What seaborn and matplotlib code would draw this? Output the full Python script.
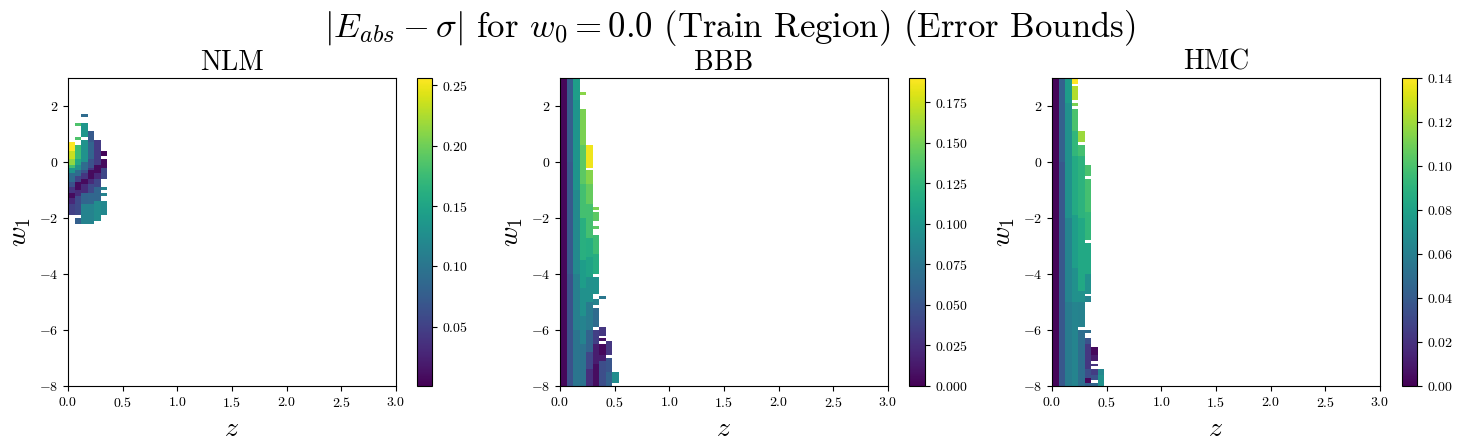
import numpy as np
import pandas as pd
import matplotlib
matplotlib.use("Agg")
import matplotlib.pyplot as plt
import seaborn as sns

# ---------------- data ----------------
# grid: z columns of width 0.06 over [0, 3]; w1 rows of height 0.1 over [-8, 3]
z_range = (0.0, 3.0)
w1_range = (-8.0, 3.0)
n_z = 50
n_w1 = 110

panel_titles = ["NLM", "BBB", "HMC"]
color_limits = [(0.001, 0.256), (0.0, 0.19), (0.0, 0.14)]
cbar_ticks = [
    [0.05, 0.10, 0.15, 0.20, 0.25],
    [0.000, 0.025, 0.050, 0.075, 0.100, 0.125, 0.150, 0.175],
    [0.00, 0.02, 0.04, 0.06, 0.08, 0.10, 0.12, 0.14],
]
cbar_fmt = ["{:.2f}", "{:.3f}", "{:.2f}"]
x_ticks = [0.0, 0.5, 1.0, 1.5, 2.0, 2.5, 3.0]
y_ticks = [-8, -6, -4, -2, 0, 2]

# runs: (column index, w1 top, w1 bottom, value)
nlm_runs = [
    (0, 0.70, 0.40, 0.256), (0, 0.40, 0.10, 0.235), (0, 0.10, -0.05, 0.215),
    (0, -0.05, -0.22, 0.18), (0, -0.22, -0.45, 0.135), (0, -0.45, -0.69, 0.09),
    (0, -0.69, -0.87, 0.065), (0, -0.87, -1.05, 0.04), (0, -1.05, -1.29, 0.008),
    (0, -1.29, -1.52, 0.03), (0, -1.52, -1.90, 0.05),
    (1, 1.38, 1.28, 0.185), (1, 0.92, 0.82, 0.185), (1, 0.58, 0.10, 0.175),
    (1, 0.10, -0.10, 0.154), (1, -0.10, -0.33, 0.128), (1, -0.33, -0.51, 0.09),
    (1, -0.51, -0.69, 0.052), (1, -0.69, -0.99, 0.008), (1, -0.99, -1.23, 0.032),
    (1, -1.23, -1.90, 0.058), (1, -2.04, -2.16, 0.078),
    (2, 1.69, 1.59, 0.09), (2, 1.38, 0.92, 0.135), (2, 0.81, -0.04, 0.13),
    (2, -0.04, -0.28, 0.09), (2, -0.28, -0.45, 0.065), (2, -0.45, -0.63, 0.04),
    (2, -0.63, -0.81, 0.008), (2, -0.81, -1.05, 0.032), (2, -1.05, -1.47, 0.083),
    (2, -1.47, -2.24, 0.115),
    (3, 1.15, 0.70, 0.072), (3, 0.70, 0.08, 0.083), (3, 0.08, -0.16, 0.065),
    (3, -0.16, -0.33, 0.04), (3, -0.33, -0.57, 0.008), (3, -0.57, -0.81, 0.032),
    (3, -0.81, -1.11, 0.058), (3, -1.11, -1.47, 0.085), (3, -1.47, -2.24, 0.115),
    (4, 0.81, -0.10, 0.045), (4, -0.10, -0.39, 0.008), (4, -0.39, -0.63, 0.03),
    (4, -0.63, -0.93, 0.055), (4, -0.93, -1.35, 0.085), (4, -1.35, -2.12, 0.125),
    (5, 0.38, 0.18, 0.004), (5, 0.08, -0.16, 0.008), (5, -0.16, -0.55, 0.055),
    (5, -0.93, -1.03, 0.115), (5, -1.14, -1.24, 0.115), (5, -1.38, -1.88, 0.12),
]

bbb_runs = [
    (0, 3.0, -8.0, 0.003),
    (1, 3.0, 0.0, 0.055), (1, 0.0, -4.0, 0.052), (1, -4.0, -8.0, 0.048),
    (2, 3.0, 2.2, 0.106), (2, 2.2, -1.0, 0.098), (2, -1.0, -4.0, 0.09),
    (2, -4.0, -6.0, 0.082), (2, -6.0, -8.0, 0.074),
    (3, 2.49, 2.39, 0.156), (3, 1.89, 0.60, 0.152), (3, 0.60, -0.80, 0.142),
    (3, -0.80, -2.0, 0.133), (3, -2.0, -3.5, 0.12), (3, -3.5, -4.5, 0.105),
    (3, -4.5, -5.5, 0.095), (3, -5.5, -6.5, 0.085), (3, -6.5, -8.0, 0.072),
    (4, 0.58, -0.16, 0.185), (4, -0.25, -0.80, 0.155), (4, -0.80, -1.47, 0.145),
    (4, -1.47, -2.66, 0.133), (4, -2.66, -3.40, 0.118), (4, -3.40, -4.08, 0.11),
    (4, -4.08, -5.04, 0.095), (4, -5.04, -5.99, 0.078), (4, -5.99, -6.82, 0.06),
    (4, -6.82, -7.42, 0.04), (4, -7.42, -8.0, 0.025),
    (5, -1.58, -1.68, 0.152), (5, -1.85, -2.12, 0.142), (5, -2.28, -2.37, 0.142),
    (5, -2.60, -3.30, 0.13), (5, -3.30, -4.0, 0.118), (5, -4.10, -4.68, 0.097),
    (5, -4.92, -5.13, 0.085), (5, -5.25, -5.87, 0.066), (5, -6.01, -6.50, 0.035),
    (5, -6.50, -7.20, 0.015), (5, -7.20, -8.0, 0.006),
    (6, -4.80, -4.90, 0.075), (6, -5.87, -6.23, 0.03), (6, -6.31, -6.41, 0.008),
    (6, -6.49, -6.88, 0.004), (6, -6.88, -7.15, 0.015), (6, -7.15, -8.0, 0.045),
    (7, -6.44, -6.88, 0.03), (7, -6.96, -7.50, 0.05), (7, -7.50, -8.0, 0.06),
    (8, -7.54, -7.87, 0.092),
]

hmc_runs = [
    (0, 3.0, -8.0, 0.002),
    (1, 3.0, 0.0, 0.043), (1, 0.0, -8.0, 0.038),
    (2, 3.0, 2.1, 0.077), (2, 2.1, -2.0, 0.07), (2, -2.0, -5.0, 0.063),
    (2, -5.0, -8.0, 0.058),
    (3, 3.0, 2.82, 0.14), (3, 2.70, 2.23, 0.124), (3, 2.13, 2.02, 0.112),
    (3, 1.89, 1.15, 0.10), (3, 1.15, 0.20, 0.092), (3, 0.20, -1.95, 0.085),
    (3, -1.95, -3.85, 0.078), (3, -3.85, -5.04, 0.07), (3, -5.04, -8.0, 0.063),
    (4, 1.15, 0.70, 0.119), (4, 0.58, 0.20, 0.098), (4, 0.20, -2.0, 0.09),
    (4, -2.0, -4.56, 0.084), (4, -4.56, -5.04, 0.07), (4, -5.04, -5.87, 0.062),
    (4, -6.01, -8.0, 0.05),
    (5, -0.06, -0.51, 0.10), (5, -0.63, -1.80, 0.098), (5, -1.80, -2.78, 0.092),
    (5, -2.92, -3.97, 0.084), (5, -3.97, -4.68, 0.07), (5, -4.82, -5.01, 0.063),
    (5, -5.65, -5.75, 0.05), (5, -6.01, -6.11, 0.05), (5, -6.35, -6.52, 0.035),
    (5, -6.52, -7.42, 0.022), (5, -7.42, -7.66, 0.033), (5, -7.66, -7.89, 0.003),
    (5, -7.89, -8.0, 0.042),
    (6, -6.56, -6.88, 0.003), (6, -6.88, -7.12, 0.01), (6, -7.18, -7.30, 0.02),
    (6, -7.42, -7.56, 0.025), (6, -7.56, -7.77, 0.035), (6, -7.89, -8.0, 0.045),
    (7, -7.42, -7.56, 0.065), (7, -7.63, -8.0, 0.07),
]

all_runs = [nlm_runs, bbb_runs, hmc_runs]

# ---------------- style ----------------
plt.rcParams.update({
    "font.family": "serif",
    "font.serif": ["cmr10"],
    "mathtext.fontset": "cm",
    "axes.formatter.use_mathtext": True,
    "axes.unicode_minus": True,
    "xtick.labelsize": 10,
    "ytick.labelsize": 10,
})

dz = (z_range[1] - z_range[0]) / n_z
dw = (w1_range[1] - w1_range[0]) / n_w1
row_centers = w1_range[1] - dw / 2 - dw * np.arange(n_w1)   # top row first


def build_grid(runs):
    grid = np.full((n_w1, n_z), np.nan)
    for col, top, bottom, val in runs:
        sel = (row_centers < top) & (row_centers > bottom)
        grid[sel, col] = val
    return pd.DataFrame(grid, index=np.round(row_centers, 3),
                        columns=np.round(z_range[0] + dz / 2 + dz * np.arange(n_z), 3))


fig = plt.figure(figsize=(14.6, 4.48), dpi=100)
W, H = 1460.0, 448.0
ax_lefts = [68, 560, 1052]
cb_lefts = [416.5, 909.3, 1401.5]
ax_bottom = (H - 386) / H
ax_h = 308 / H

for i in range(3):
    ax = fig.add_axes([ax_lefts[i] / W, ax_bottom, 328 / W, ax_h])
    cax = fig.add_axes([cb_lefts[i] / W, ax_bottom, 15.7 / W, ax_h])
    df = build_grid(all_runs[i])
    vmin, vmax = color_limits[i]
    sns.heatmap(df, ax=ax, cbar_ax=cax, cmap="viridis", vmin=vmin, vmax=vmax,
                xticklabels=False, yticklabels=False)
    for s in ax.spines.values():
        s.set_visible(True)
        s.set_linewidth(0.8)
        s.set_color("black")
    ax.set_xticks([(t - z_range[0]) / dz for t in x_ticks])
    ax.set_xticklabels([f"${t:.1f}$" for t in x_ticks], rotation=0)
    ax.set_yticks([(w1_range[1] - t) / dw for t in y_ticks])
    ax.set_yticklabels([f"${t}$" for t in y_ticks], rotation=0)
    ax.tick_params(direction="out", length=3.5, width=0.8, left=True, bottom=True)
    ax.set_xlabel(r"$z$", fontsize=20)
    ax.set_ylabel(r"$w_1$", fontsize=20)
    ax.set_title(panel_titles[i], fontsize=20)

    cbar = ax.collections[0].colorbar
    cbar.set_ticks(cbar_ticks[i])
    cbar.set_ticklabels(["$" + cbar_fmt[i].format(t) + "$" for t in cbar_ticks[i]])
    cbar.outline.set_linewidth(0.8)
    cbar.outline.set_edgecolor("black")
    cax.tick_params(labelsize=10, length=3.5, width=0.8)

fig.suptitle(r"$|E_{abs} - \sigma|$ for $w_0 = 0.0$ (Train Region) (Error Bounds)",
             fontsize=25, y=0.937, va="center")

fig.savefig("out.png", dpi=100)
